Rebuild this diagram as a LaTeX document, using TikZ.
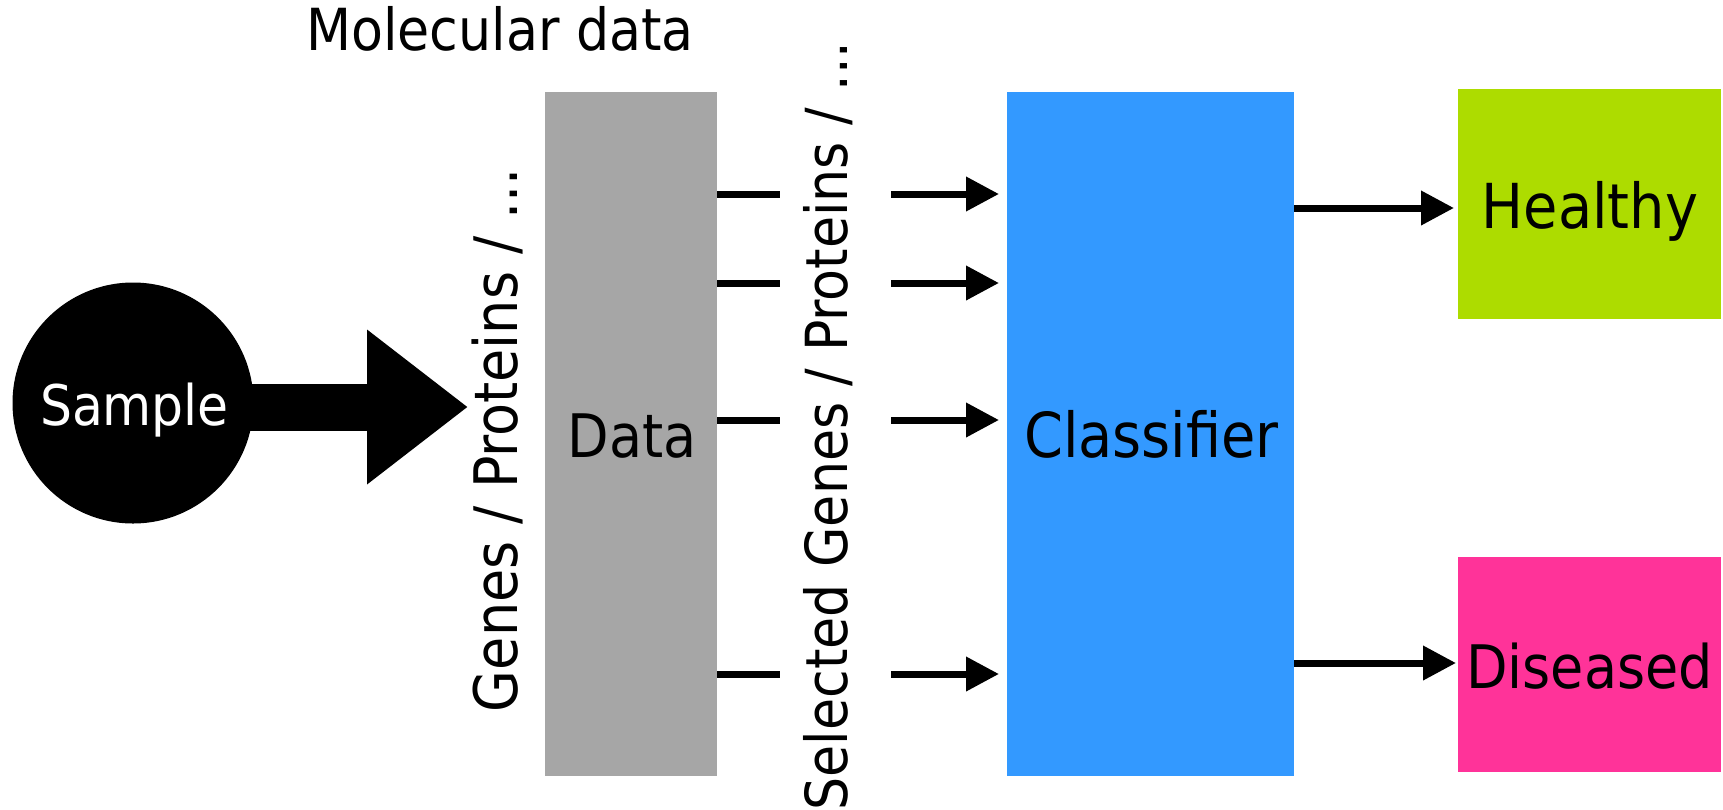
\documentclass[tikz,border=0pt]{standalone}
\usepackage{fontspec}
\setmainfont{DejaVu Sans Condensed}
\usetikzlibrary{arrows.meta}
\definecolor{databox}{HTML}{A6A6A6}
\definecolor{clsblue}{HTML}{3399FF}
\definecolor{healthygreen}{HTML}{ADDC00}
\definecolor{diseasepink}{HTML}{FF3399}
\newcommand{\fsz}[1]{\fontsize{#1}{#1}\selectfont}

\begin{document}
\begin{tikzpicture}[x=1pt,y=-1pt,
  box/.style={rectangle, inner sep=0pt, outer sep=0pt},
  txt/.style={inner sep=0pt, anchor=base},
  feed/.style={line width=7pt},
  feedarrow/.style={line width=7pt, -{Triangle[length=33pt,width=33pt]}},
  bigarrow/.style={line width=47pt, -{Triangle[length=101pt,width=148pt]}},
]
\useasboundingbox (0,0) rectangle (1723,809);

% boxes
\node[box, fill=databox, minimum width=172pt, minimum height=684pt] (data) at (631,434) {};
\node[box, fill=clsblue, minimum width=287pt, minimum height=684pt] (cls) at (1150.5,434) {};
\node[box, fill=healthygreen, minimum width=263pt, minimum height=230pt] (healthy) at (1589.5,204) {};
\node[box, fill=diseasepink, minimum width=263pt, minimum height=215pt] (diseased) at (1589.5,664.5) {};
\node[circle, fill=black, inner sep=0pt, minimum size=241pt] (sample) at (133,403) {};

% big arrow from the sample
\coordinate (bigtip) at (468,407);
\draw[bigarrow] (sample.center |- bigtip) -- (bigtip);

% labels
\node[txt, font=\fsz{58}] (mol) at (500,50) {Molecular data};
\node[txt, font=\fsz{56}, text=white] (sampletxt) at (134.5,425) {Sample};
\node[txt, font=\fsz{60}] (datatxt) at (632,457) {Data};
\node[txt, font=\fsz{62}] (clstxt) at (1151.5,457) {Classifier};
\node[txt, font=\fsz{62}] (healthytxt) at (1590,228) {Healthy};
\node[txt, font=\fsz{60}] (diseasedtxt) at (1589.5,688) {Diseased};
\node[txt, font=\fsz{60}, rotate=90] (genes) at (517,440) {Genes / Proteins / ...};
\node[txt, font=\fsz{58}, rotate=90] (selected) at (847,426) {Selected Genes / Proteins / ...};

% feature lines: data -> (selection) -> classifier
\foreach \i/\y in {1/194,2/283,3/420,4/674}{
  \coordinate (a\i) at (780,\y);
  \coordinate (b\i) at (891,\y);
  \draw[feed] (data.east |- a\i) -- (a\i);
  \draw[feedarrow, shorten >=8pt] (b\i) -- (cls.west |- b\i);
}

% classifier outputs
\draw[feedarrow, shorten >=4pt] (cls.east |- 0,208) -- (healthy.west |- 0,208);
\draw[feedarrow, shorten >=2pt] (cls.east |- 0,663) -- (diseased.west |- 0,663);
\end{tikzpicture}
\end{document}
